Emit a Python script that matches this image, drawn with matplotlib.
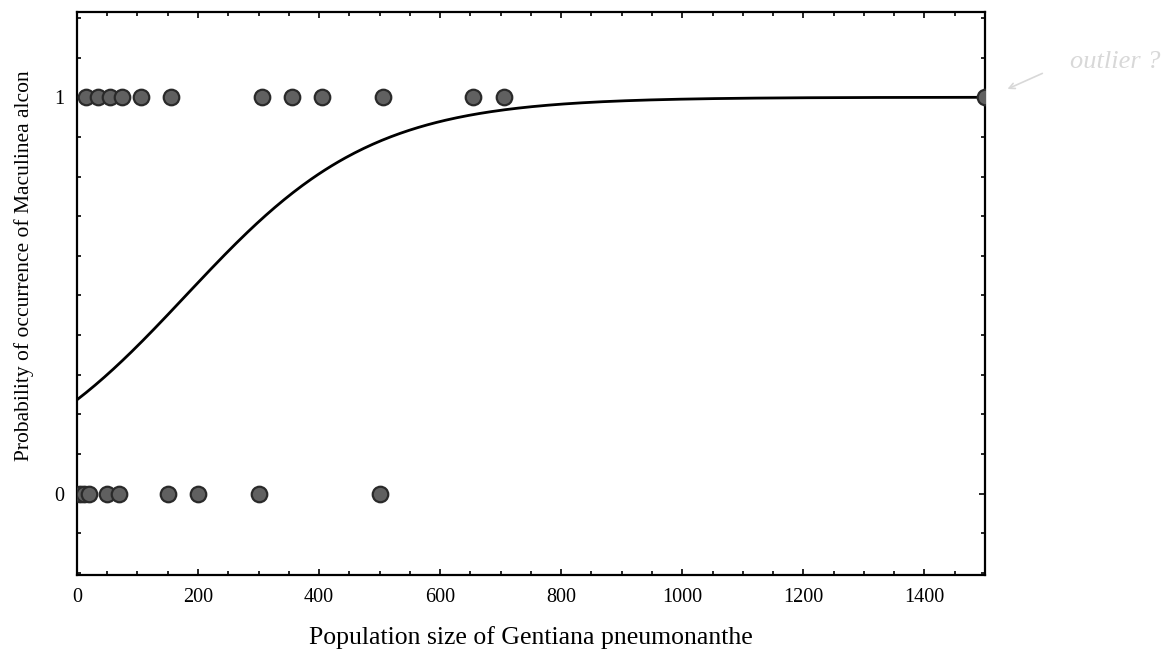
import numpy as np
import matplotlib
matplotlib.use("Agg")
import matplotlib.pyplot as plt
from matplotlib.ticker import MultipleLocator, FixedLocator

# sites where Maculinea alcon was found (1) or absent (0)
present_x = [15, 35, 55, 75, 105, 155, 305, 355, 405, 505, 655, 705, 1500]
absent_x = [5, 12, 20, 50, 70, 150, 200, 300, 500]

# logistic fit: logit(p) = b0 + b1 * population size
b0 = -1.17
b1 = 0.0065

plt.rcParams["font.family"] = ["Liberation Serif", "DejaVu Serif"]

fig = plt.figure(figsize=(11.73, 6.55), dpi=100)
ax = fig.add_axes([0.0656, 0.1221, 0.7741, 0.8596])

xs = np.linspace(0, 1500, 400)
ax.plot(xs, 1 / (1 + np.exp(-(b0 + b1 * xs))), color="black", lw=2)

dot = dict(s=125, facecolor="#606060", edgecolor="#2a2a2a", linewidths=1.6, zorder=3)
ax.scatter(present_x, [1] * len(present_x), **dot)
ax.scatter(absent_x, [0] * len(absent_x), **dot)

ax.set_xlim(0, 1500)
ax.set_ylim(-0.205, 1.215)
ax.xaxis.set_major_locator(MultipleLocator(200))
ax.xaxis.set_minor_locator(MultipleLocator(50))
ax.yaxis.set_major_locator(FixedLocator([0, 1]))
ax.yaxis.set_minor_locator(MultipleLocator(0.1))
ax.tick_params(which="both", direction="in", top=True, right=True, width=1.2)
ax.tick_params(which="major", length=4, labelsize=14.5, pad=9)
ax.tick_params(which="minor", length=3)
for sp in ax.spines.values():
    sp.set_linewidth(1.6)

ax.set_xlabel("Population size of Gentiana pneumonanthe", fontsize=18.5, labelpad=14)
ax.set_ylabel("Probability of occurrence of Maculinea alcon", fontsize=15.5)
ax.yaxis.set_label_coords(-0.047, 0.55)

# pencil note beside the far-right point
fig.text(0.912, 0.905, "outlier ?", fontsize=19, style="italic", color="#d8d8d8",
         va="center")
ax.annotate("", xy=(1.022, 1.018), xycoords=("axes fraction", "data"),
            xytext=(1.066, 1.063), textcoords=("axes fraction", "data"),
            arrowprops=dict(arrowstyle="->", color="#d8d8d8", lw=1.2))

fig.savefig("out.png", dpi=100)
